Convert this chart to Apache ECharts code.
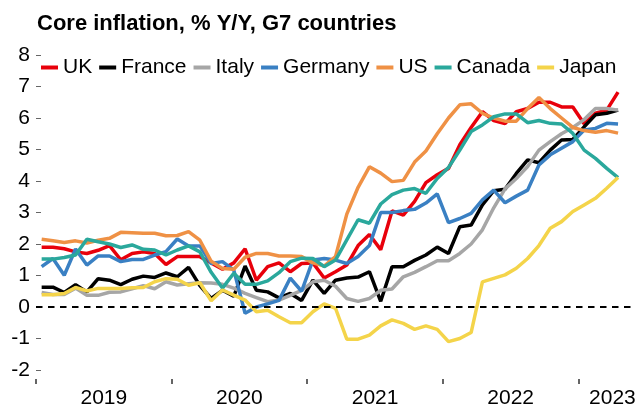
<!DOCTYPE html>
<html>
<head>
<meta charset="utf-8">
<script src="https://cdn.jsdelivr.net/npm/echarts@6/dist/echarts.min.js"></script>
<style>html,body{margin:0;padding:0;background:#fff}#c{width:640px;height:406px}</style>
</head>
<body>
<div id="c"></div>
<script>
// Monthly, Jan 2019 – Apr 2023
const yearTicks = [2019, 2020, 2021, 2022, 2023];
const countries = ['UK', 'France', 'Italy', 'Germany', 'US', 'Canada', 'Japan'];
const colors = ['#e8000b', '#000000', '#a6a6a6', '#3a80c3', '#ef9145', '#2aa89c', '#f4d44a'];

const uk = [1.9,1.9,1.85,1.75,1.7,1.8,1.95,1.5,1.7,1.75,1.7,1.35,
  1.6,1.6,1.6,1.4,1.2,1.4,1.85,0.85,1.28,1.4,1.12,1.38,
  1.4,0.92,1.12,1.33,1.95,2.3,1.82,3.05,2.92,3.35,3.95,4.2,
  4.4,5.15,5.7,6.2,5.92,5.82,6.2,6.3,6.5,6.5,6.35,6.35,
  5.82,6.15,6.25,6.82];
const france = [0.63,0.63,0.46,0.71,0.48,0.9,0.85,0.71,0.88,0.98,0.94,1.08,
  0.96,1.26,0.68,0.27,0.53,0.34,1.3,0.53,0.48,0.29,0.43,0.21,
  0.85,0.43,0.85,0.92,0.95,1.12,0.18,1.28,1.28,1.48,1.65,1.9,
  1.7,2.55,2.6,3.24,3.69,3.74,4.24,4.67,4.58,4.98,5.3,5.32,
  5.72,6.1,6.15,6.25];
const italy = [0.46,0.4,0.4,0.6,0.37,0.37,0.47,0.48,0.58,0.68,0.58,0.8,
  0.7,0.74,0.77,0.76,0.72,0.6,0.43,0.3,0.17,0.22,0.37,0.53,
  0.8,0.85,0.66,0.27,0.18,0.27,0.53,0.57,0.96,1.1,1.28,1.47,
  1.47,1.7,2.0,2.45,3.15,3.75,4.08,4.46,4.98,5.25,5.5,5.7,
  5.95,6.3,6.3,6.25];
const germany = [1.28,1.54,1.01,1.84,1.33,1.62,1.62,1.44,1.51,1.51,1.65,1.76,
  2.16,1.94,1.94,1.38,1.44,1.17,-0.2,0.0,0.1,0.21,0.92,0.5,
  1.49,1.54,1.49,1.38,1.6,1.95,3.0,3.0,3.06,3.1,3.3,3.59,
  2.68,2.81,2.97,3.4,3.71,3.31,3.52,3.71,4.51,4.83,5.04,5.25,
  5.62,5.67,5.83,5.81];
const us = [2.15,2.1,2.05,2.1,2.03,2.12,2.18,2.37,2.36,2.34,2.34,2.26,
  2.27,2.39,2.12,1.45,1.22,1.2,1.58,1.7,1.7,1.62,1.62,1.6,
  1.4,1.3,1.6,2.95,3.8,4.45,4.25,3.98,4.02,4.6,4.95,5.5,
  6.0,6.42,6.45,6.15,6.0,5.9,5.9,6.3,6.65,6.3,6.0,5.7,
  5.6,5.55,5.6,5.52];
const canada = [1.52,1.52,1.57,1.65,2.15,2.07,2.0,1.89,1.97,1.83,1.81,1.65,
  1.81,1.94,1.75,1.1,0.6,1.07,0.72,0.72,0.83,1.09,1.44,1.55,
  1.54,1.28,1.49,2.13,2.77,2.66,3.27,3.57,3.71,3.76,3.61,4.08,
  4.43,4.98,5.57,5.78,6.04,6.13,6.13,5.85,5.92,5.83,5.81,5.51,
  4.98,4.72,4.4,4.11];
const japan = [0.39,0.39,0.43,0.62,0.51,0.59,0.59,0.59,0.61,0.62,0.8,0.9,
  0.88,0.69,0.77,0.2,0.54,0.38,0.22,-0.15,-0.1,-0.31,-0.5,-0.5,
  -0.15,0.1,-0.04,-1.02,-1.02,-0.89,-0.6,-0.41,-0.52,-0.71,-0.6,-0.71,
  -1.1,-1.0,-0.81,0.8,0.91,1.02,1.23,1.54,1.95,2.5,2.71,3.03,
  3.24,3.45,3.77,4.11];
const seriesValues = [uk, france, italy, germany, us, canada, japan];

// month index (0 = Jan 2019); each point sits in the middle of its month
const monthPos = uk.map((_, i) => i + 0.5);
const yearLabelPos = [6, 18, 30, 42, 51];
const yearTickPos = [0, 12, 24, 36, 48];

const FONT = '"Liberation Sans", Arial, sans-serif';
const chart = echarts.init(document.getElementById('c'), null, {renderer: 'canvas'});

const series = countries.map((name, k) => ({
  name: name,
  type: 'line',
  data: seriesValues[k].map((v, i) => [monthPos[i], v]),
  showSymbol: false,
  symbol: 'none',
  lineStyle: {width: 3.5, color: colors[k]},
  itemStyle: {color: colors[k]},
  animation: false,
  z: 3
}));
series[0].markLine = {
  silent: true,
  symbol: 'none',
  label: {show: false},
  lineStyle: {color: '#000', width: 2, type: [6.5, 5.5]},
  data: [{yAxis: 0}],
  animation: false
};

const hiddenLine = {show: true, onZero: false, lineStyle: {color: 'rgba(0,0,0,0)', width: 1}};

chart.setOption({
  animation: false,
  backgroundColor: '#fff',
  title: {
    text: 'Core inflation, % Y/Y, G7 countries',
    left: 37, top: 13, padding: 0,
    textStyle: {fontFamily: FONT, fontSize: 22, fontWeight: 'bold', color: '#000'}
  },
  legend: {
    data: countries,
    left: 41, top: 57, padding: 0,
    itemGap: 7, itemWidth: 17, itemHeight: 4, icon: 'rect',
    textStyle: {fontFamily: FONT, fontSize: 21, color: '#000'}
  },
  grid: {left: 36, right: 5, top: 55, bottom: 36, containLabel: false, outerBoundsMode: 'none'},
  xAxis: {
    type: 'value', min: 0, max: 53, offset: 9,
    axisLine: hiddenLine,
    splitLine: {show: false},
    axisTick: {show: true, customValues: yearTickPos, length: 5, lineStyle: {color: '#333', width: 1.5}},
    axisLabel: {
      customValues: yearLabelPos,
      formatter: function (v) { return String(yearTicks[yearLabelPos.indexOf(v)]); },
      fontFamily: FONT, fontSize: 21, color: '#000', margin: 9
    }
  },
  yAxis: {
    type: 'value', min: -2, max: 8, interval: 1,
    axisLine: hiddenLine,
    splitLine: {show: false},
    axisTick: {show: true, inside: true, length: 5, lineStyle: {color: '#666', width: 1}},
    axisLabel: {fontFamily: FONT, fontSize: 21, color: '#000', margin: 6}
  },
  series: series
});
</script>
</body>
</html>
